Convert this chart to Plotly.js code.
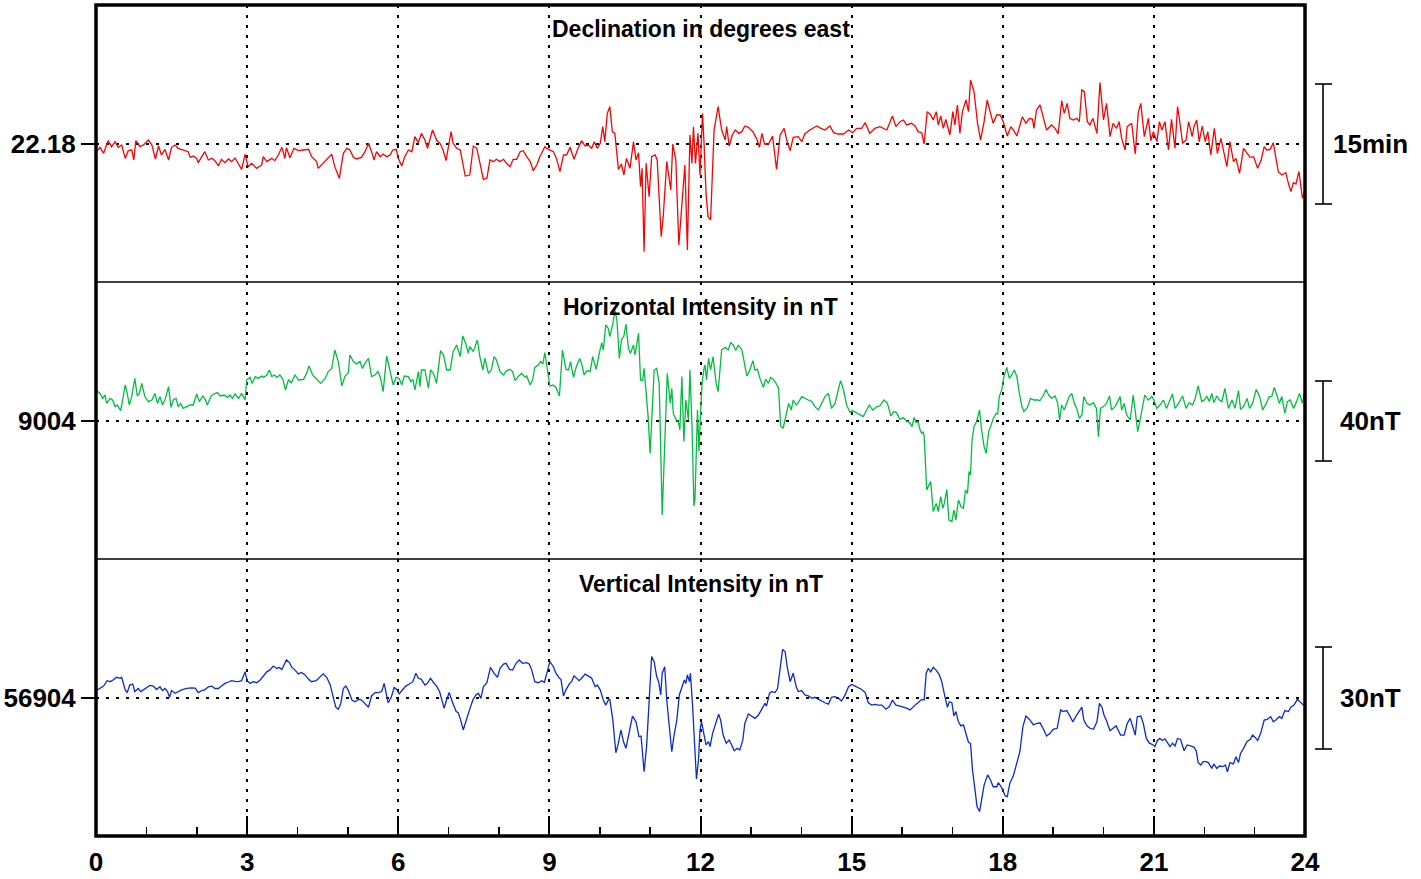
<!DOCTYPE html>
<html>
<head>
<meta charset="utf-8">
<script src="https://cdn.plot.ly/plotly-3.0.1.min.js"></script>
<style>html,body{margin:0;padding:0;background:#fff}</style>
</head>
<body>
<div id="chart" style="width:1421px;height:879px"></div>
<script>
// ---------------- DATA ----------------
// Hours (UT) of the day
const hourTicks = [0, 3, 6, 9, 12, 15, 18, 21, 24];

// Panel titles, baselines and scale bars
const panelTitles = ["Declination in degrees east", "Horizontal Intensity in nT", "Vertical Intensity in nT"];
const baseD = 22.18, baseH = 9004, baseZ = 56904;
const baseLabels = ["22.18", "9004", "56904"];
const scaleLabels = ["15min", "40nT", "30nT"];
const scaleD = 0.25, scaleH = 40, scaleZ = 30;   // bar lengths in data units (15 arc-min, 40 nT, 30 nT)

// Declination (degrees east)
const decTime = [
0.01,0.08,0.15,0.24,0.31,0.38,0.44,0.51,0.58,0.64,
0.71,0.75,0.79,0.87,0.94,1.04,1.11,1.18,1.24,1.30,
1.37,1.44,1.50,1.57,1.63,1.73,1.83,1.87,1.93,2.00,
2.03,2.10,2.16,2.23,2.30,2.36,2.43,2.49,2.56,2.63,
2.69,2.76,2.83,2.89,2.96,3.02,3.09,3.19,3.29,3.32,
3.39,3.49,3.55,3.62,3.69,3.75,3.78,3.85,3.93,4.02,
4.12,4.22,4.28,4.38,4.41,4.51,4.61,4.68,4.74,4.83,
4.91,4.98,5.04,5.11,5.17,5.27,5.34,5.41,5.47,5.52,
5.57,5.64,5.70,5.77,5.84,5.89,5.96,6.00,6.07,6.13,
6.20,6.27,6.33,6.40,6.46,6.53,6.58,6.63,6.68,6.76,
6.83,6.89,6.95,6.99,7.05,7.09,7.16,7.23,7.33,7.42,
7.49,7.56,7.62,7.69,7.76,7.82,7.89,7.95,
8.02,8.09,8.15,8.22,8.28,8.35,8.42,8.48,8.55,8.62,
8.68,8.75,8.81,8.91,8.98,9.08,9.14,9.21,9.28,9.34,
9.41,9.49,9.57,9.64,9.71,9.77,9.84,9.89,9.95,10.01,
10.06,10.10,10.15,10.20,10.25,10.30,10.37,10.43,10.48,10.53,
10.60,10.67,10.72,10.77,10.81,10.84,10.88,10.92,10.98,11.03,
11.10,11.14,11.22,11.26,11.33,11.41,11.45,11.51,11.57,11.61,
11.65,11.69,11.74,11.79,11.83,11.86,11.90,11.95,11.99,12.04,
12.07,12.11,12.15,12.20,12.27,12.35,12.42,12.49,12.52,12.57,
12.63,12.69,12.76,12.82,12.88,12.95,13.04,13.12,13.17,13.22,
13.27,13.35,13.43,13.51,13.58,13.66,13.72,13.78,13.84,13.94,
14.01,14.07,14.17,14.31,14.39,14.47,14.57,14.64,14.74,14.84,
14.94,15.02,15.10,15.20,15.27,15.36,15.46,15.56,15.70,15.81,
15.88,
15.96,16.03,16.09,16.19,16.26,16.32,16.39,16.44,16.50,16.57,
16.62,16.68,16.72,16.77,16.82,16.87,16.95,17.01,17.05,17.10,
17.15,17.20,17.27,17.32,17.36,17.43,17.50,17.56,17.63,17.69,
17.76,17.81,17.88,17.95,18.01,18.09,18.16,18.22,18.28,18.34,
18.39,18.46,18.53,18.59,18.62,18.67,18.74,18.81,18.87,18.97,
19.04,19.10,19.17,19.22,19.28,19.33,19.40,19.47,19.52,19.57,
19.62,19.68,19.73,19.79,19.87,19.93,20.00,20.06,20.13,20.19,
20.26,20.31,20.36,20.43,20.47,20.56,20.63,20.69,20.74,20.81,
20.89,20.94,20.99,21.06,21.11,21.16,21.22,21.29,21.35,21.42,
21.47,21.51,21.57,21.64,21.69,21.76,21.80,21.85,21.90,21.96,
22.02,22.07,22.13,22.20,22.26,22.33,22.38,22.45,22.51,22.58,
22.63,22.70,22.78,22.85,22.91,22.98,23.06,23.13,23.19,23.24,
23.31,23.37,23.42,23.47,23.54,23.62,23.67,23.72,23.77,23.82,
23.88,23.95,24.00];
const decVal = [
22.1640,22.1731,22.1606,22.1869,22.1744,22.1849,22.1731,22.1779,22.1501,22.1661,
22.1675,22.1467,22.1869,22.1744,22.1779,22.1883,22.1779,22.1488,22.1758,22.1571,
22.1689,22.1467,22.1731,22.1779,22.1710,22.1675,22.1640,22.1522,22.1550,22.1501,
22.1411,22.1536,22.1640,22.1467,22.1501,22.1453,22.1342,22.1481,22.1411,22.1488,
22.1432,22.1508,22.1363,22.1272,22.1585,22.1328,22.1397,22.1293,22.1363,22.1536,
22.1432,22.1501,22.1453,22.1571,22.1731,22.1501,22.1724,22.1515,22.1710,22.1661,
22.1675,22.1689,22.1536,22.1432,22.1293,22.1397,22.1522,22.1585,22.1328,22.1085,
22.1606,22.1710,22.1675,22.1522,22.1488,22.1522,22.1640,22.1814,22.1640,22.1467,
22.1640,22.1536,22.1592,22.1536,22.1571,22.1675,22.1689,22.1501,22.1342,22.1536,
22.1675,22.1640,22.1953,22.1828,22.2022,22.1883,22.1710,22.1918,22.2092,22.1883,
22.1814,22.1675,22.1453,22.1710,22.2057,22.1814,22.1710,22.1675,22.1133,22.1154,
22.1758,22.1710,22.1432,22.1064,22.1085,22.1467,22.1432,22.1481,
22.1432,22.1481,22.1397,22.1328,22.1481,22.1481,22.1640,22.1661,22.1536,22.1432,
22.1244,22.1363,22.1536,22.1744,22.1689,22.1640,22.1501,22.1224,22.1571,22.1571,
22.1731,22.1481,22.1710,22.1869,22.1758,22.1779,22.1710,22.1849,22.1710,22.1814,
22.2161,22.1849,22.2439,22.2578,22.2057,22.2022,22.1272,22.1383,22.1154,22.1501,
22.1293,22.1849,22.1467,22.1619,22.0911,22.1293,21.9557,22.1397,22.0703,22.1536,
22.1571,22.1467,21.9869,22.0286,22.1432,22.0842,22.1800,22.1467,21.9696,22.0286,
22.0772,22.1363,21.9592,22.1988,22.1397,22.2161,22.1397,22.2022,22.1154,22.2439,
22.1814,22.0772,22.0286,22.0217,22.2092,22.2578,22.2092,22.1883,22.2161,22.1758,
22.1988,22.2092,22.2022,22.2057,22.2175,22.2147,22.2057,22.1897,22.1731,22.2022,
22.1800,22.1800,22.1967,22.1272,22.1988,22.2126,22.1849,22.1661,22.1939,22.1953,
22.1849,22.2008,22.2092,22.2175,22.2126,22.2092,22.2175,22.2036,22.2008,22.2008,
22.2092,22.2036,22.2126,22.2126,22.2244,22.2022,22.2126,22.2161,22.2092,22.2383,
22.2161,
22.2265,22.2300,22.2196,22.2231,22.2175,22.2057,22.2036,22.1800,22.2474,22.2404,
22.2300,22.2474,22.2196,22.2383,22.2126,22.2314,22.1988,22.2474,22.2196,22.2613,
22.2022,22.2474,22.2717,22.2474,22.3133,22.2890,22.2231,22.1883,22.2265,22.2717,
22.2439,22.2231,22.2404,22.2404,22.2265,22.1967,22.2161,22.2078,22.1967,22.2161,
22.2369,22.2231,22.2335,22.2314,22.2126,22.2508,22.2613,22.2335,22.2092,22.2196,
22.2126,22.2008,22.2703,22.2439,22.2647,22.2335,22.2300,22.2335,22.2265,22.2925,
22.2890,22.2265,22.2196,22.2335,22.2022,22.3078,22.2300,22.2647,22.1953,22.2231,
22.2126,22.2265,22.1918,22.1675,22.2161,22.2231,22.1592,22.2453,22.2647,22.1953,
22.2335,22.1869,22.2057,22.1849,22.2265,22.2092,22.2265,22.1675,22.2314,22.1710,
22.2578,22.2300,22.1814,22.1883,22.2265,22.1953,22.2175,22.2300,22.1849,22.2175,
22.1849,22.2057,22.1571,22.2126,22.1606,22.1918,22.1689,22.1328,22.1849,22.1432,
22.1501,22.1189,22.1710,22.1606,22.1522,22.1536,22.1293,22.1467,22.1744,22.1675,
22.1689,22.1828,22.1536,22.1224,22.1154,22.1203,22.0981,22.0807,22.0994,22.0967,
22.1224,22.0668,22.0842];

// Horizontal intensity (nT)
const horTime = [
0.01,0.08,0.13,0.18,0.21,0.28,0.33,0.38,0.42,0.49,
0.54,0.58,0.62,0.66,0.71,0.77,0.82,0.86,0.91,0.97,
1.04,1.11,1.17,1.22,1.27,1.32,1.38,1.44,1.49,1.54,
1.59,1.63,1.68,1.73,1.80,1.87,1.93,2.00,2.05,2.12,
2.16,2.21,2.28,2.34,2.41,2.47,2.54,2.61,2.66,2.71,
2.76,2.83,2.89,2.96,2.99,3.06,3.10,3.16,3.22,3.29,
3.33,3.39,3.44,3.49,3.54,3.59,3.65,3.71,3.76,3.82,
3.88,3.95,4.02,4.12,4.18,4.23,4.30,4.38,4.46,4.55,
4.61,4.68,4.74,4.81,4.88,4.94,5.01,5.04,5.11,5.17,
5.24,5.29,5.36,5.41,5.47,5.54,5.60,5.65,5.70,5.77,
5.84,5.90,5.96,6.02,6.07,6.12,6.20,6.25,6.29,6.33,
6.40,6.43,6.46,6.53,6.60,6.64,6.70,6.76,6.84,6.90,
6.96,7.03,7.09,7.16,7.23,7.28,7.34,7.39,7.42,7.49,
7.57,7.62,7.68,7.72,7.79,7.85,7.90,7.95,
8.02,8.09,8.15,8.22,8.27,8.32,8.38,8.45,8.52,8.55,
8.62,8.67,8.71,8.78,8.83,8.87,8.91,8.96,9.01,9.07,
9.13,9.20,9.26,9.33,9.38,9.42,9.48,9.53,9.60,9.64,
9.69,9.75,9.81,9.86,9.93,9.99,10.04,10.07,10.12,10.17,
10.20,10.26,10.30,10.34,10.39,10.43,10.48,10.52,10.57,10.61,
10.67,10.70,10.77,10.81,10.85,10.88,10.92,10.96,11.00,11.03,
11.08,11.13,11.18,11.24,11.30,11.34,11.40,11.43,11.46,11.52,
11.56,11.59,11.63,11.67,11.71,11.76,11.79,11.83,11.87,11.89,
11.94,11.97,12.00,12.03,12.07,12.09,12.12,12.16,12.20,12.25,
12.31,12.35,12.42,12.49,12.55,12.60,12.65,12.70,12.75,12.82,
12.86,12.92,12.98,13.04,13.08,13.13,13.18,13.25,13.29,13.35,
13.39,13.45,13.50,13.55,13.59,13.64,13.70,13.75,13.80,13.84,
13.90,13.94,14.01,14.07,14.14,14.21,14.27,14.34,14.41,14.47,
14.54,14.60,14.67,14.74,14.78,14.84,14.90,14.97,15.02,15.09,
15.17,15.23,15.30,15.35,15.42,15.50,15.56,15.64,15.71,15.78,
15.84,15.89,
15.96,16.03,16.08,16.15,16.20,16.24,16.28,16.32,16.36,16.39,
16.42,16.44,16.46,16.49,16.52,16.57,16.62,16.68,16.72,16.77,
16.81,16.84,16.89,16.93,16.99,17.03,17.07,17.12,17.17,17.22,
17.26,17.30,17.33,17.36,17.39,17.43,17.48,17.54,17.58,17.63,
17.67,17.72,17.76,17.81,17.87,17.90,17.93,17.98,18.02,18.08,
18.13,18.18,18.23,18.28,18.33,18.38,18.42,18.49,18.55,18.62,
18.69,18.74,18.81,18.86,18.91,18.97,19.04,19.09,19.13,19.17,
19.22,19.27,19.32,19.37,19.42,19.47,19.52,19.57,19.61,19.67,
19.73,19.80,19.86,19.90,19.94,20.00,20.06,20.12,20.16,20.23,
20.28,20.33,20.36,20.41,20.46,20.53,20.59,20.64,20.68,20.72,
20.78,20.82,20.89,20.96,21.00,21.06,21.12,21.19,21.25,21.32,
21.37,21.42,21.49,21.57,21.64,21.70,21.77,21.82,21.88,21.95,
22.00,22.05,22.10,22.15,22.19,22.25,22.30,22.35,22.41,22.48,
22.55,22.61,22.68,22.72,22.78,22.85,22.90,22.96,23.03,23.10,
23.16,23.23,23.29,23.34,23.39,23.44,23.49,23.54,23.60,23.65,
23.71,23.77,23.82,23.89,23.95,24.00];
const horVal = [
9019.2,9017.8,9015.3,9017.0,9012.8,9015.3,9014.5,9011.2,9012.0,9009.2,
9016.2,9022.0,9017.8,9012.0,9016.2,9025.3,9016.5,9017.8,9022.8,9016.2,
9013.7,9014.5,9017.8,9012.8,9016.2,9012.0,9015.3,9021.2,9010.8,9014.8,
9015.3,9011.2,9012.8,9010.3,9011.2,9012.0,9012.0,9017.5,9013.7,9016.5,
9015.3,9012.0,9016.2,9017.5,9018.2,9016.5,9017.0,9015.8,9017.0,9015.3,
9017.5,9015.3,9017.8,9014.5,9024.5,9025.8,9022.8,9026.2,9025.3,9026.5,
9025.8,9027.0,9029.5,9026.2,9027.0,9025.8,9027.0,9024.8,9019.5,9024.5,
9023.2,9027.0,9024.5,9024.8,9027.8,9031.5,9027.0,9024.8,9022.8,9025.3,
9028.7,9030.3,9039.5,9033.7,9021.5,9026.2,9028.2,9037.0,9033.7,9032.5,
9033.7,9030.3,9033.7,9035.3,9026.2,9027.0,9028.7,9025.3,9018.7,9036.5,
9027.8,9022.0,9025.8,9025.3,9022.0,9026.5,9026.2,9023.7,9024.8,9019.5,
9028.7,9021.2,9029.5,9029.5,9020.3,9029.5,9027.8,9022.8,9039.2,9037.0,
9029.5,9029.5,9038.7,9042.0,9036.2,9046.5,9042.8,9037.8,9041.2,9038.7,
9044.5,9036.2,9029.5,9035.3,9027.8,9029.5,9036.2,9034.5,
9028.7,9027.0,9029.2,9029.8,9028.7,9024.2,9026.2,9027.8,9025.8,9026.5,
9022.0,9024.8,9030.8,9032.0,9033.7,9032.5,9038.2,9029.8,9021.5,9022.0,
9020.8,9016.5,9039.5,9029.8,9029.5,9033.7,9025.8,9030.8,9035.3,9032.8,
9027.0,9029.2,9028.7,9036.2,9029.8,9037.8,9043.2,9039.5,9052.0,9050.3,
9046.2,9052.5,9059.5,9054.5,9035.3,9044.5,9046.5,9052.5,9040.3,9037.8,
9042.0,9037.0,9047.8,9024.5,9024.2,9030.3,9017.8,9006.2,8987.8,9006.2,
9029.5,9030.3,9022.8,8957.0,9006.2,9027.8,9012.8,9020.3,9007.8,9004.5,
9003.7,8999.5,9026.2,8993.7,9014.5,9004.5,9029.5,9002.8,8961.5,8964.5,
9009.5,8988.7,9007.8,9022.8,9030.3,9032.0,9024.5,9035.3,9029.5,9036.2,
9022.8,9018.7,9039.5,9040.8,9039.5,9043.2,9042.0,9039.2,9042.0,9039.5,
9034.5,9026.5,9029.5,9034.2,9029.5,9029.8,9025.3,9020.8,9024.8,9022.8,
9025.8,9024.8,9022.8,9020.3,9001.5,9000.3,9007.0,9012.8,9009.5,9014.5,
9012.0,9013.2,9016.2,9015.3,9014.5,9013.7,9011.2,9009.5,9012.8,9016.2,
9017.8,9010.3,9012.8,9019.5,9024.2,9019.5,9012.0,9008.2,9009.2,9008.2,
9007.0,9006.2,9009.5,9012.0,9009.5,9011.2,9011.5,9014.5,9012.8,9006.5,
9008.7,9008.2,
9004.8,9005.7,9004.2,9003.2,9001.2,9005.8,9003.2,9003.7,8999.5,8997.8,
8998.7,8996.2,8986.2,8969.5,8971.2,8973.7,8958.7,8962.8,8958.7,8966.2,
8960.3,8962.8,8969.8,8954.5,8953.7,8959.5,8954.5,8964.5,8961.2,8960.3,
8969.5,8967.8,8978.7,8977.0,8994.5,9001.2,9003.7,9009.5,8999.5,8991.2,
8987.8,8998.7,9001.2,9005.3,9007.8,9007.5,9016.2,9019.5,9025.8,9030.8,
9025.3,9027.0,9029.5,9026.2,9017.8,9011.2,9008.7,9010.8,9015.3,9014.5,
9014.5,9014.2,9017.0,9019.8,9017.0,9015.3,9016.5,9012.8,9004.5,9012.0,
9009.5,9012.8,9016.2,9017.8,9012.8,9010.3,9005.3,9007.0,9016.2,9012.8,
9012.0,9013.2,9010.3,8996.2,9010.3,9011.2,9012.8,9016.5,9009.5,9011.2,
9013.7,9016.2,9009.5,9012.8,9007.0,9004.5,9017.0,9005.3,8998.7,9003.7,
9012.8,9017.0,9014.5,9016.2,9014.5,9010.3,9012.0,9014.5,9010.3,9014.5,
9017.5,9010.3,9012.8,9016.5,9010.3,9013.2,9012.0,9015.3,9021.5,9013.7,
9014.5,9016.5,9013.7,9017.8,9013.2,9016.5,9014.5,9013.7,9020.3,9010.3,
9014.5,9010.3,9019.2,9009.8,9011.2,9015.3,9010.3,9012.8,9019.8,9016.2,
9009.5,9012.8,9016.2,9016.2,9020.8,9017.0,9012.8,9016.2,9007.8,9013.7,
9014.5,9010.3,9012.8,9017.8,9012.8,9019.5];

// Vertical intensity (nT)
const verTime = [
0.01,0.08,0.15,0.22,0.28,0.34,0.41,0.48,0.51,0.58,
0.62,0.67,0.73,0.77,0.84,0.89,0.94,1.01,1.07,1.14,
1.20,1.27,1.32,1.37,1.42,1.46,1.50,1.57,1.63,1.70,
1.80,1.90,1.97,2.03,2.10,2.16,2.23,2.30,2.36,2.43,
2.49,2.56,2.63,2.69,2.76,2.83,2.89,2.96,3.00,3.06,
3.12,3.19,3.26,3.32,3.39,3.45,3.52,3.59,3.64,3.69,
3.73,3.78,3.84,3.88,3.95,4.02,4.08,4.15,4.22,4.28,
4.37,4.45,4.51,4.58,4.65,4.71,4.76,4.81,4.86,4.91,
4.96,5.01,5.08,5.14,5.21,5.27,5.34,5.41,5.47,5.54,
5.60,5.67,5.72,5.76,5.80,5.86,5.92,5.97,6.02,6.09,
6.15,6.22,6.29,6.35,6.40,6.46,6.53,6.58,6.64,6.70,
6.76,6.82,6.86,6.91,6.96,7.01,7.08,7.15,7.19,7.24,
7.29,7.34,7.41,7.48,7.54,7.59,7.64,7.69,7.76,7.83,
7.90,7.97,
8.02,8.09,8.14,8.21,8.27,8.34,8.40,8.47,8.54,8.60,
8.65,8.71,8.78,8.85,8.90,8.95,9.01,9.08,9.13,9.20,
9.23,9.28,9.33,9.40,9.44,9.49,9.54,9.59,9.64,9.71,
9.77,9.84,9.91,9.95,10.01,10.07,10.12,10.17,10.20,10.26,
10.32,10.37,10.42,10.47,10.52,10.60,10.65,10.72,10.78,10.82,
10.85,10.88,10.93,10.98,11.03,11.08,11.13,11.17,11.21,11.24,
11.29,11.33,11.38,11.43,11.47,11.53,11.58,11.63,11.68,11.71,
11.74,11.78,11.80,11.84,11.89,11.92,11.96,11.99,12.02,12.07,
12.11,12.16,12.19,12.24,12.31,12.36,12.40,12.45,12.51,12.57,
12.62,12.67,12.73,12.78,12.84,12.88,12.95,13.02,13.08,13.15,
13.21,13.28,13.31,13.37,13.41,13.48,13.53,13.58,13.63,13.68,
13.72,13.78,13.84,13.90,13.94,14.01,14.07,14.14,14.21,14.27,
14.34,14.41,14.47,14.54,14.60,14.67,14.74,14.80,14.87,14.94,
15.00,15.07,15.13,15.20,15.27,15.33,15.40,15.46,15.53,15.60,
15.68,15.75,15.81,15.88,
15.96,16.03,16.09,16.16,16.21,16.28,16.34,16.39,16.44,16.48,
16.52,16.57,16.62,16.69,16.74,16.79,16.83,16.87,16.90,16.94,
16.99,17.03,17.07,17.12,17.17,17.22,17.27,17.32,17.36,17.40,
17.45,17.49,17.54,17.58,17.63,17.70,17.75,17.81,17.88,17.91,
17.96,18.00,18.05,18.09,18.14,18.21,18.28,18.34,18.40,18.46,
18.53,18.61,18.67,18.74,18.81,18.87,18.94,19.00,19.08,19.15,
19.20,19.27,19.34,19.39,19.45,19.52,19.57,19.61,19.67,19.73,
19.80,19.87,19.92,19.97,20.01,20.06,20.13,20.19,20.25,20.29,
20.34,20.41,20.47,20.53,20.58,20.63,20.67,20.74,20.79,20.85,
20.91,20.99,21.02,21.07,21.12,21.17,21.22,21.27,21.32,21.37,
21.42,21.47,21.53,21.60,21.66,21.73,21.80,21.84,21.88,21.93,
21.98,22.04,22.08,22.15,22.19,22.25,22.30,22.37,22.42,22.46,
22.51,22.58,22.63,22.68,22.72,22.78,22.85,22.91,22.96,23.01,
23.06,23.12,23.19,23.25,23.32,23.37,23.42,23.49,23.54,23.60,
23.67,23.72,23.78,23.85,23.90,23.97,24.00];
const verVal = [
56906.2,56906.8,56907.5,56909.1,56908.8,56909.3,56910.1,56909.8,56910.1,56906.4,
56905.6,56907.8,56908.1,56905.9,56906.8,56905.9,56906.4,56907.3,56907.7,56907.5,
56906.5,56907.3,56906.2,56906.8,56905.9,56904.2,56906.2,56905.4,56905.9,56906.4,
56906.8,56907.0,56906.9,56905.6,56906.2,56906.4,56907.3,56907.5,56906.8,56906.8,
56907.5,56908.3,56908.7,56909.1,56908.9,56908.8,56909.1,56911.7,56909.1,56908.3,
56908.8,56908.5,56909.3,56910.5,56911.7,56912.2,56913.4,56912.7,56913.0,56912.4,
56913.7,56915.2,56914.4,56913.2,56912.2,56911.1,56911.5,56910.8,56909.5,56908.8,
56909.1,56910.1,56911.1,56910.1,56907.8,56904.2,56901.3,56900.7,56902.4,56906.8,
56907.5,56906.2,56903.4,56902.9,56903.6,56903.4,56902.4,56901.3,56904.6,56905.6,
56905.6,56905.9,56908.3,56905.2,56902.6,56904.2,56907.1,56906.5,56905.2,56906.5,
56907.5,56908.1,56908.8,56911.3,56909.8,56909.5,56907.8,56908.3,56909.8,56908.5,
56907.5,56905.9,56903.4,56901.0,56903.4,56905.6,56902.6,56900.0,56899.7,56897.5,
56894.6,56896.7,56900.3,56903.4,56904.9,56905.4,56903.9,56907.3,56908.5,56913.0,
56911.3,56910.1,
56912.7,56914.0,56914.2,56912.4,56912.2,56914.2,56915.2,56914.2,56914.4,56914.0,
56912.2,56908.8,56908.5,56909.1,56908.6,56911.3,56914.7,56913.2,56911.3,56909.8,
56909.5,56904.6,56906.4,56908.3,56908.8,56910.5,56909.8,56909.1,56909.8,56911.0,
56910.5,56909.8,56907.3,56907.8,56906.4,56903.4,56901.9,56903.4,56903.6,56897.5,
56887.9,56890.7,56894.6,56891.2,56889.2,56894.6,56898.7,56897.0,56892.6,56892.8,
56887.9,56882.3,56889.7,56903.4,56916.2,56914.7,56910.3,56908.8,56904.9,56911.3,
56913.2,56903.4,56894.6,56888.2,56892.6,56897.5,56904.9,56906.8,56909.3,56908.3,
56910.8,56908.8,56911.3,56902.4,56885.8,56880.1,56885.8,56894.6,56897.0,56893.6,
56890.2,56891.2,56889.7,56893.6,56897.0,56899.2,56897.5,56893.1,56890.7,56891.6,
56890.2,56888.5,56889.2,56888.7,56891.6,56896.5,56899.3,56898.5,56898.0,56899.0,
56900.7,56902.4,56901.6,56905.4,56905.9,56905.6,56906.8,56912.2,56918.3,56917.6,
56913.2,56908.8,56911.3,56907.3,56905.9,56906.2,56904.9,56904.6,56903.9,56904.2,
56903.6,56902.9,56902.6,56902.2,56904.2,56904.4,56903.9,56903.1,56904.9,56907.3,
56908.0,56907.5,56907.1,56906.5,56905.6,56902.6,56901.9,56902.1,56901.9,56901.9,
56900.7,56901.5,56903.4,56901.9,
56901.6,56901.3,56901.0,56900.5,56901.3,56902.2,56902.9,56903.6,56903.4,56911.3,
56912.7,56911.7,56913.0,56912.0,56910.8,56908.8,56905.9,56903.6,56901.3,56902.9,
56902.6,56898.7,56900.0,56897.0,56895.8,56896.1,56893.6,56890.9,56890.7,56882.8,
56876.9,56872.0,56870.6,56874.0,56878.4,56881.4,56880.1,56877.9,56877.9,56879.1,
56878.1,56876.9,56875.2,56875.0,56878.9,56881.1,56884.8,56888.2,56895.6,56898.7,
56897.7,56896.1,56896.5,56896.7,56894.8,56892.8,56893.6,56894.8,56895.1,56900.5,
56900.0,56900.3,56898.5,56897.0,56898.5,56900.3,56901.3,56897.5,56895.8,56895.1,
56894.8,56897.0,56902.4,56901.3,56899.0,56897.3,56894.4,56895.1,56895.8,56894.6,
56893.1,56893.1,56896.5,56898.0,56895.6,56893.1,56898.5,56898.7,56896.5,56892.1,
56890.7,56890.2,56889.7,56891.5,56892.1,56891.5,56892.0,56890.9,56889.7,56890.7,
56889.9,56892.1,56891.8,56888.5,56890.2,56889.9,56889.5,56888.5,56885.0,56884.3,
56885.3,56885.3,56885.0,56883.3,56884.6,56883.3,56884.0,56883.8,56884.3,56882.3,
56885.0,56884.6,56886.7,56885.0,56887.7,56889.2,56891.2,56891.8,56893.1,56892.4,
56891.5,56893.6,56897.5,56897.7,56898.5,56897.0,56897.5,56898.5,56898.0,56900.3,
56900.0,56901.3,56901.9,56903.6,56902.9,56901.9,56901.9];

// ---------------- STYLE / LAYOUT ----------------
const FONT = '"Liberation Sans", Arial, Helvetica, sans-serif';
const DOT = '3px,7px';
// pixels per data unit in each panel (from the scale bars)
const pxD = 480, pxH = 2, pxZ = 3.4;
const above = 139, below = 138;      // baseline position inside each panel (px)

function yAxis(domain, base, px, label) {
  return {
    domain: domain, anchor: 'x',
    range: [base - below / px, base + above / px],
    tickmode: 'array', tickvals: [base], ticktext: [label],
    ticks: 'outside', ticklen: 14, tickwidth: 2, tickcolor: '#000',
    showgrid: true, gridcolor: '#000', gridwidth: 2, griddash: DOT,
    zeroline: false, showline: false, fixedrange: true,
    tickfont: {family: FONT, size: 26, color: '#000', weight: 'bold'}
  };
}

const traces = [
  {x: verTime, y: verVal, xaxis: 'x', yaxis: 'y', type: 'scatter', mode: 'lines',
   line: {color: '#0b2bd0', width: 1.3}, hoverinfo: 'skip'},
  {x: horTime, y: horVal, xaxis: 'x', yaxis: 'y2', type: 'scatter', mode: 'lines',
   line: {color: '#00bf3f', width: 1.3}, hoverinfo: 'skip'},
  {x: decTime, y: decVal, xaxis: 'x', yaxis: 'y3', type: 'scatter', mode: 'lines',
   line: {color: '#ff0000', width: 1.3}, hoverinfo: 'skip'}
];

const barX = 1.0149, capL = 1.0083, capR = 1.0223, lblX = 1.0538;
function scaleBar(yref, base, len) {
  const y0 = base - len / 2, y1 = base + len / 2;
  const st = {color: '#000', width: 1.6};
  return [
    {type: 'line', xref: 'paper', yref: yref, x0: barX, x1: barX, y0: y0, y1: y1, line: st},
    {type: 'line', xref: 'paper', yref: yref, x0: capL, x1: capR, y0: y0, y1: y0, line: st},
    {type: 'line', xref: 'paper', yref: yref, x0: capL, x1: capR, y0: y1, y1: y1, line: st}
  ];
}

const shapes = [
  {type: 'rect', xref: 'paper', yref: 'paper', x0: 0, x1: 1, y0: 0, y1: 1,
   line: {color: '#000', width: 3.5}, layer: 'above'},
  {type: 'line', xref: 'paper', yref: 'paper', x0: 0, x1: 1, y0: 1/3, y1: 1/3,
   line: {color: '#000', width: 1.6}, layer: 'above'},
  {type: 'line', xref: 'paper', yref: 'paper', x0: 0, x1: 1, y0: 2/3, y1: 2/3,
   line: {color: '#000', width: 1.6}, layer: 'above'}
].concat(scaleBar('y3', baseD, scaleD), scaleBar('y2', baseH, scaleH), scaleBar('y', baseZ, scaleZ));

const titleFont = {family: FONT, size: 23, color: '#000', weight: 'bold'};
const labelFont = {family: FONT, size: 26, color: '#000', weight: 'bold'};
const annotations = [
  {text: panelTitles[0], xref: 'paper', yref: 'paper', x: 0.5, y: 0.9711, showarrow: false,
   xanchor: 'center', yanchor: 'middle', font: titleFont},
  {text: panelTitles[1], xref: 'paper', yref: 'paper', x: 0.5, y: 0.6366, showarrow: false,
   xanchor: 'center', yanchor: 'middle', font: titleFont},
  {text: panelTitles[2], xref: 'paper', yref: 'paper', x: 0.5, y: 0.3032, showarrow: false,
   xanchor: 'center', yanchor: 'middle', font: titleFont},
  {text: scaleLabels[0], xref: 'paper', yref: 'y3', x: lblX, y: baseD, showarrow: false,
   xanchor: 'center', yanchor: 'middle', font: labelFont},
  {text: scaleLabels[1], xref: 'paper', yref: 'y2', x: lblX, y: baseH, showarrow: false,
   xanchor: 'center', yanchor: 'middle', font: labelFont},
  {text: scaleLabels[2], xref: 'paper', yref: 'y', x: lblX, y: baseZ, showarrow: false,
   xanchor: 'center', yanchor: 'middle', font: labelFont}
];

const layout = {
  width: 1421, height: 879,
  margin: {l: 96, r: 116, t: 5, b: 43, pad: 0},
  paper_bgcolor: '#fff', plot_bgcolor: '#fff',
  showlegend: false,
  font: {family: FONT, color: '#000'},
  xaxis: {
    domain: [0, 1], anchor: 'y', range: [0, 24],
    tickmode: 'array', tickvals: hourTicks, ticktext: hourTicks.map(String),
    ticks: 'inside', ticklen: 20, tickwidth: 2, tickcolor: '#000',
    ticklabelstandoff: 8,
    minor: {tickmode: 'linear', tick0: 0, dtick: 1, ticks: 'inside', ticklen: 9, tickwidth: 1.5,
            tickcolor: '#000', showgrid: false},
    showgrid: true, gridcolor: '#000', gridwidth: 2, griddash: DOT,
    zeroline: false, showline: false, fixedrange: true,
    tickfont: {family: FONT, size: 26, color: '#000', weight: 'bold'}
  },
  yaxis: yAxis([0, 1/3], baseZ, pxZ, baseLabels[2]),
  yaxis2: yAxis([1/3, 2/3], baseH, pxH, baseLabels[1]),
  yaxis3: yAxis([2/3, 1], baseD, pxD, baseLabels[0]),
  shapes: shapes,
  annotations: annotations
};

Plotly.newPlot('chart', traces, layout, {staticPlot: true, displayModeBar: false});
</script>
</body>
</html>
